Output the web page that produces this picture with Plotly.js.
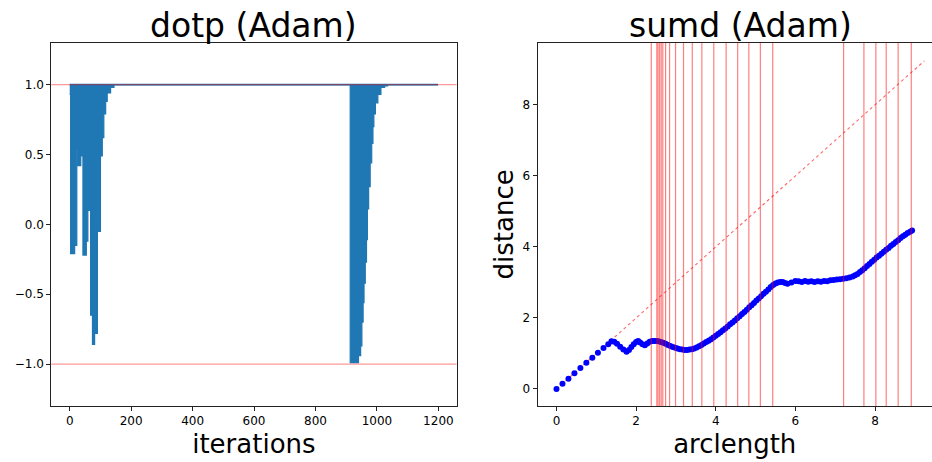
<!DOCTYPE html>
<html>
<head>
<meta charset="utf-8">
<script src="https://cdn.plot.ly/plotly-3.0.1.min.js"></script>
<style>html,body{margin:0;padding:0;background:#fff;}#chart{width:932px;height:462px;}</style>
</head>
<body>
<div id="chart"></div>
<script>
// ---- dotp (Adam): lower envelope of the oscillating dot product, per iteration ----
const dotpIter = [0, 3, 16, 23, 27, 36, 43, 54, 59, 68, 74, 81, 90, 100, 106, 111, 117, 122, 133, 144,
  913, 940, 947, 951, 955, 958, 962, 966, 969, 973, 978, 983, 987, 990, 995, 1003, 1013, 1025, 1035, 1199];
const dotpLow = [0.93, -0.21, -0.15, 0.54, 0.42, 0.49, -0.22, -0.12, 0.10, -0.65, -0.86, -0.78, -0.05, 0.49, 0.62, 0.79, 0.88, 0.94, 0.98, 1.0,
  -0.99, -0.94, -0.87, -0.70, -0.56, -0.42, -0.27, -0.11, 0.11, 0.27, 0.44, 0.58, 0.70, 0.79, 0.87, 0.93, 0.98, 0.99, 1.0, 1.0];
const dotpTopIter = [0, 1199];
const dotpTop = [1.0, 1.0];
const dotpRefLines = [1.0, -1.0];

// ---- sumd (Adam): distance vs arclength ----
const arclength = [0, 0.15, 0.30, 0.45, 0.60, 0.75, 0.90, 1.04, 1.18, 1.30, 1.38, 1.45, 1.52, 1.60, 1.68, 1.76, 1.82, 1.88, 1.94, 2.00,
  2.05, 2.10, 2.16, 2.22, 2.28, 2.34, 2.40, 2.45, 2.50, 2.56, 2.62, 2.68, 2.74, 2.80, 2.86, 2.92, 2.98, 3.04, 3.10, 3.16,
  3.22, 3.28, 3.34, 3.40, 3.46, 3.52, 3.58, 3.64, 3.70, 3.76, 3.82, 3.88, 3.94, 4.00, 4.06, 4.12, 4.18, 4.24, 4.30, 4.36,
  4.42, 4.48, 4.54, 4.60, 4.66, 4.72, 4.78, 4.84, 4.90, 4.96, 5.02, 5.08, 5.14, 5.20, 5.26, 5.32, 5.38, 5.44, 5.50, 5.56,
  5.62, 5.68, 5.74, 5.80, 5.90, 6.00, 6.08, 6.16, 6.24, 6.32, 6.40, 6.48, 6.56, 6.64, 6.72, 6.80, 6.88, 6.96, 7.04, 7.12,
  7.20, 7.28, 7.36, 7.44, 7.50, 7.56, 7.62, 7.68, 7.74, 7.80, 7.86, 7.92, 7.98, 8.04, 8.10, 8.16, 8.22, 8.28, 8.34, 8.40,
  8.46, 8.52, 8.58, 8.64, 8.70, 8.76, 8.82, 8.88, 8.93];
const distance = [0, 0.15, 0.29, 0.44, 0.59, 0.74, 0.88, 1.02, 1.15, 1.26, 1.34, 1.33, 1.27, 1.19, 1.11, 1.05, 1.10, 1.18, 1.26, 1.32,
  1.35, 1.31, 1.26, 1.23, 1.28, 1.33, 1.35, 1.35, 1.35, 1.34, 1.32, 1.30, 1.27, 1.24, 1.21, 1.18, 1.16, 1.14, 1.12, 1.11,
  1.10, 1.10, 1.11, 1.12, 1.14, 1.17, 1.20, 1.24, 1.28, 1.32, 1.36, 1.40, 1.45, 1.50, 1.55, 1.60, 1.65, 1.70, 1.76, 1.82,
  1.87, 1.93, 1.99, 2.05, 2.11, 2.17, 2.23, 2.30, 2.36, 2.42, 2.49, 2.55, 2.61, 2.68, 2.74, 2.80, 2.87, 2.93, 2.97, 3.00,
  3.01, 3.01, 2.98, 2.96, 3.00, 3.04, 3.03, 3.01, 3.04, 3.02, 3.03, 3.01, 3.03, 3.02, 3.04, 3.03, 3.06, 3.07, 3.08, 3.09,
  3.10, 3.12, 3.14, 3.17, 3.20, 3.24, 3.29, 3.34, 3.40, 3.46, 3.52, 3.58, 3.64, 3.70, 3.75, 3.81, 3.86, 3.92, 3.97, 4.03,
  4.08, 4.14, 4.19, 4.25, 4.30, 4.34, 4.39, 4.43, 4.46];
const diagX = [0, 9.24];
const diagY = [0, 9.24];
const vlineArc = [2.38, 2.52, 2.55, 2.59, 2.63, 2.67, 2.74, 2.84, 2.99, 3.19, 3.41, 3.65, 3.95, 4.26, 4.55, 4.83, 5.12, 5.43,
  7.21, 7.72, 8.02, 8.28, 8.58, 8.91];

const xTicksL = [0, 200, 400, 600, 800, 1000, 1200];
const yTicksL = [-1.0, -0.5, 0.0, 0.5, 1.0];
const ticksR = [0, 2, 4, 6, 8];

const FONT = 'DejaVu Sans, Verdana, sans-serif';
const BLUE = '#1f77b4';

const traces = [
  {x: dotpTopIter, y: dotpTop, xaxis: 'x', yaxis: 'y', mode: 'lines',
   line: {color: BLUE, width: 1.8}, hoverinfo: 'skip', showlegend: false},
  {x: dotpIter, y: dotpLow, xaxis: 'x', yaxis: 'y', mode: 'lines',
   line: {color: BLUE, width: 1.2, shape: 'hv'}, fill: 'tonexty', fillcolor: BLUE, showlegend: false},
  {x: diagX, y: diagY, xaxis: 'x2', yaxis: 'y2', mode: 'lines',
   line: {color: 'rgba(255,0,0,0.6)', width: 1.1, dash: 'dot'}, showlegend: false},
  {x: arclength, y: distance, xaxis: 'x2', yaxis: 'y2', mode: 'markers',
   marker: {color: '#0000ff', size: 6, line: {width: 0}}, showlegend: false}
];

const shapes = [];
dotpRefLines.forEach(v => shapes.push({type: 'line', xref: 'x domain', yref: 'y', x0: 0, x1: 1, y0: v, y1: v,
  line: {color: 'rgba(255,0,0,0.4)', width: 1.3}, layer: 'above'}));
vlineArc.forEach(v => shapes.push({type: 'line', xref: 'x2', yref: 'y2 domain', x0: v, x1: v, y0: 0, y1: 1,
  line: {color: 'rgba(255,0,0,0.5)', width: 1.2}, layer: 'above'}));

const axCommon = {showgrid: false, zeroline: false, showline: true, linecolor: '#222', linewidth: 1,
  ticks: 'outside', ticklen: 4, tickwidth: 1, tickcolor: '#222',
  tickfont: {family: FONT, size: 12, color: '#000'}, automargin: false};

const layout = {
  width: 932, height: 462,
  margin: {l: 0, r: 0, t: 0, b: 0},
  paper_bgcolor: '#fff', plot_bgcolor: '#fff',
  font: {family: FONT, color: '#000'},
  showlegend: false,
  xaxis: Object.assign({}, axCommon, {domain: [51.3/932, 456.5/932], range: [-60, 1259], mirror: true,
    tickvals: xTicksL, ticktext: xTicksL.map(String), anchor: 'y',
    title: {text: 'iterations', font: {family: FONT, size: 26}, standoff: 7}}),
  yaxis: Object.assign({}, axCommon, {domain: [56/462, 419.3/462], range: [-1.3, 1.3], mirror: true,
    tickvals: yTicksL, ticktext: yTicksL.map(v => v.toFixed(1).replace('-', '\u2212')), anchor: 'x'}),
  xaxis2: Object.assign({}, axCommon, {domain: [537.5/932, 1], range: [-0.477, 9.43], mirror: true,
    tickvals: ticksR, ticktext: ticksR.map(String), anchor: 'y2',
    title: {text: 'arclength', font: {family: FONT, size: 26}, standoff: 7}}),
  yaxis2: Object.assign({}, axCommon, {domain: [56/462, 419.3/462], range: [-0.48, 9.75], mirror: false,
    tickvals: ticksR, ticktext: ticksR.map(String), anchor: 'x2',
    title: {text: 'distance', font: {family: FONT, size: 26}, standoff: 1}}),
  shapes: shapes,
  annotations: [
    {text: 'dotp (Adam)', xref: 'paper', yref: 'paper', x: 253.9/932, y: (462-25)/462, xanchor: 'center', yanchor: 'middle',
     showarrow: false, font: {family: FONT, size: 33, color: '#000'}},
    {text: 'sumd (Adam)', xref: 'paper', yref: 'paper', x: 740/932, y: (462-25)/462, xanchor: 'center', yanchor: 'middle',
     showarrow: false, font: {family: FONT, size: 33, color: '#000'}}
  ]
};

Plotly.newPlot('chart', traces, layout, {displayModeBar: false, staticPlot: true});
</script>
</body>
</html>
